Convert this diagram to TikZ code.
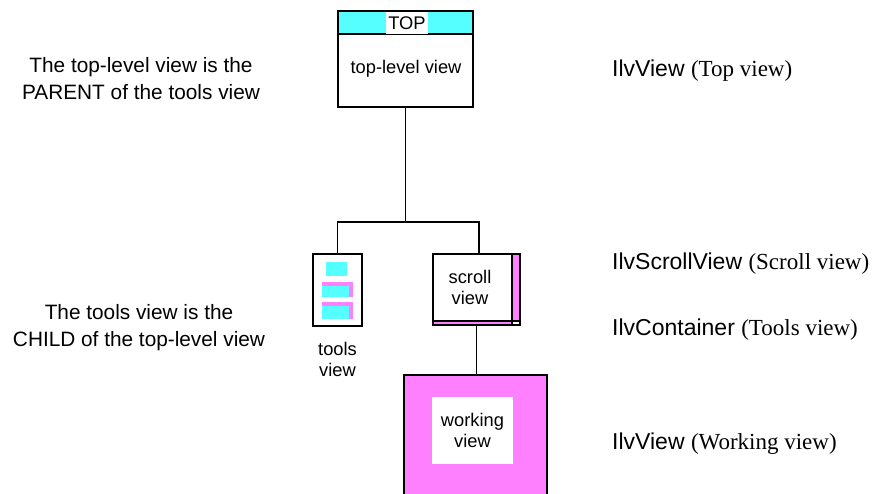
\documentclass[tikz,border=0pt]{standalone}
\usepackage{fontspec}
\setmainfont{Liberation Sans}
\newfontfamily\timesfont{Liberation Serif}
\usepackage{tikz}
\usetikzlibrary{positioning}
\definecolor{viewcyan}{RGB}{85,255,255}
\definecolor{viewpink}{RGB}{255,128,255}
\pgfdeclarelayer{background}
\pgfsetlayers{background,main}

\begin{document}
\begin{tikzpicture}[x=1pt,y=-1pt]

\tikzstyle{view}=[draw, line width=1.9pt, inner sep=0pt]
\tikzstyle{lbl}=[inner sep=0pt, align=center, font=\fontsize{18.3}{21}\selectfont]
\tikzstyle{note}=[inner sep=0pt, align=center, font=\fontsize{20.8}{27}\selectfont]
\tikzstyle{cls}=[inner sep=0pt, anchor=base west, font=\fontsize{23}{27}\selectfont]
\tikzstyle{link}=[line width=1.9pt]

\useasboundingbox (0,0) rectangle (885,493);

% the views
\node[view, minimum width=135pt, minimum height=96pt] (top) at (405.5,59) {};
\node[view, minimum width=49pt, minimum height=72pt] (tools) at (337.5,290) {};
\node[view, minimum width=87pt, minimum height=71pt] (scroll) at (476.5,289.5) {};
\node[fill=viewpink, inner sep=0pt, minimum width=143pt, minimum height=122pt] (work) at (475.5,436) {};
\draw[link] (work.south west) -- (work.north west) -- (work.north east) -- (work.south east);

\begin{pgfonlayer}{background}
    \fill[viewcyan] (top.north west) rectangle ([yshift=-24pt]top.north east);
    % scroll bars
    \fill[viewpink] ([xshift=-9pt]scroll.north east) rectangle ([yshift=5pt]scroll.south east);
    \fill[viewpink] ([yshift=5pt]scroll.south west) rectangle ([xshift=-9pt]scroll.south east);
\end{pgfonlayer}
\draw[link] ([yshift=-24pt]top.north west) -- ([yshift=-24pt]top.north east);
\node[lbl, fill=white, minimum width=42pt, minimum height=22pt] (toplbl) at (407,23) {TOP};
\node[lbl, anchor=base] (toptxt) at (406,73) {top-level view};

% tools icons
\fill[viewcyan] (326,262) rectangle (347,276);
\foreach \y/\h in {282/15,302/17} {
    \fill[viewpink] (322,\y) rectangle (353,\y+\h);
    \fill[viewcyan] (322,\y+4) rectangle (349,\y+\h);
}
\node[lbl, below=15pt of tools] (toolstxt) {tools\\view};

\draw[line width=1.3pt] ([xshift=-9pt]scroll.north east) -- ([xshift=-9pt]scroll.south east);
\draw[line width=1.3pt] ([yshift=5pt]scroll.south west) -- ([yshift=5pt]scroll.south east);
\node[lbl] (scrolltxt) at (470,287) {scroll\\view};

\node[lbl, fill=white, minimum width=81pt, minimum height=67pt] (worktxt) at (472.5,430.5) {working\\view};

% links
\coordinate (split) at (404,222);
\draw[link] (top.south) -- (top.south |- split);
\draw[link] (tools.north) -- (tools.north |- split)
    -- ([xshift=2.5pt]scroll.north |- split) -- ([xshift=2.5pt]scroll.north);
\draw[link] (scroll.south) -- (scroll.south |- work.north);

% notes
\node[note] (parent) at (141,79) {The top-level view is the\\PARENT of the tools view};
\node[note] (child) at (139,328) {The tools view is the\\CHILD of the top-level view};

\node[cls] (clsTop) at (612,76) {IlvView {\timesfont (Top view)}};
\node[cls] (clsScroll) at (612,269) {IlvScrollView {\timesfont (Scroll view)}};
\node[cls] (clsTools) at (612,335) {IlvContainer {\timesfont (Tools view)}};
\node[cls] (clsWork) at (612,449) {IlvView {\timesfont (Working view)}};

\end{tikzpicture}
\end{document}
